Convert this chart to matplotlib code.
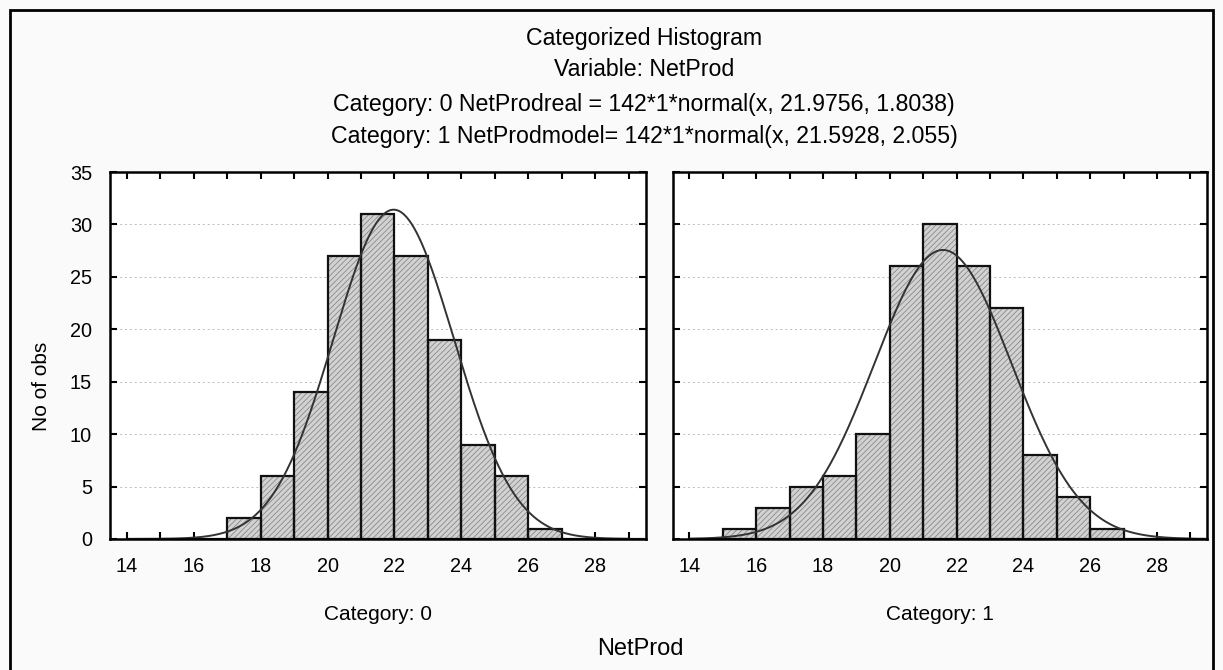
import numpy as np
import matplotlib
matplotlib.use("Agg")
import matplotlib.pyplot as plt
from matplotlib.patches import Rectangle
from matplotlib.ticker import MultipleLocator

plt.rcParams['font.family'] = ['Liberation Sans', 'DejaVu Sans']
plt.rcParams['hatch.linewidth'] = 0.6
plt.rcParams['hatch.color'] = '#8a8a8a'

# data
bin_left = list(range(14, 29))
counts_cat0 = [0, 0, 0, 2, 6, 14, 27, 31, 27, 19, 9, 6, 1, 0, 0]
counts_cat1 = [0, 1, 3, 5, 6, 10, 26, 30, 26, 22, 8, 4, 1, 0, 0]
fit_n = 142
fit_mean = [21.9756, 21.5928]
fit_sd = [1.8038, 2.055]
categories = ["Category: 0", "Category: 1"]
title_lines = ["Categorized Histogram",
               "Variable: NetProd",
               "Category: 0 NetProdreal = 142*1*normal(x, 21.9756, 1.8038)",
               "Category: 1 NetProdmodel= 142*1*normal(x, 21.5928, 2.055)"]

W, H = 1223, 670
fig = plt.figure(figsize=(W / 100, H / 100), dpi=100, facecolor='#fafafa')

def box(x0, y0, x1, y1):
    return [x0 / W, 1 - y1 / H, (x1 - x0) / W, (y1 - y0) / H]

axes = [fig.add_axes(box(110, 172, 645.5, 539)),
        fig.add_axes(box(672.7, 172, 1207, 539))]

xs = np.linspace(14, 29.5, 400)
for i, (ax, counts) in enumerate(zip(axes, [counts_cat0, counts_cat1])):
    ax.set_facecolor('white')
    ax.bar(bin_left, counts, width=1, align='edge', color='#d2d2d2',
           hatch='//////', linewidth=0, zorder=2)
    ax.bar(bin_left, counts, width=1, align='edge', fill=False,
           edgecolor='#111111', linewidth=1.6, zorder=3)
    y = fit_n * 1 * np.exp(-0.5 * ((xs - fit_mean[i]) / fit_sd[i]) ** 2) / (fit_sd[i] * np.sqrt(2 * np.pi))
    ax.plot(xs, y, color='#333333', lw=1.4, zorder=4)
    ax.set_xlim(13.5, 29.5)
    ax.set_ylim(0, 35)
    ax.xaxis.set_major_locator(MultipleLocator(2))
    ax.xaxis.set_minor_locator(MultipleLocator(1))
    ax.yaxis.set_major_locator(MultipleLocator(5))
    ax.tick_params(which='both', direction='in', top=True, right=True,
                   length=5, width=1.5, labelsize=14.3)
    ax.tick_params(axis='x', pad=13)
    ax.tick_params(axis='y', pad=13)
    ax.grid(axis='y', linestyle=(0, (2, 3)), color='#bbbbbb', lw=0.7, zorder=1)
    for s in ax.spines.values():
        s.set_linewidth(1.8)
        s.set_zorder(5)
    ax.text(0.5, -0.205, categories[i], transform=ax.transAxes,
            ha='center', va='center', fontsize=15)
axes[1].tick_params(labelleft=False)

for txt, yp in zip(title_lines, [39, 70, 104, 136]):
    fig.text(644 / W, 1 - yp / H, txt, ha='center', va='center', fontsize=16.7)
fig.text(640 / W, 1 - 649 / H, "NetProd", ha='center', va='center', fontsize=17)
fig.text(42 / W, 1 - 386 / H, "No of obs", ha='center', va='center',
         rotation=90, fontsize=15)

fig.add_artist(Rectangle((10 / W, -0.05), (1213 - 10) / W, 1 - 10 / H + 0.05,
                         transform=fig.transFigure, fill=False,
                         edgecolor='black', lw=2))

fig.savefig('out.png', dpi=100, facecolor=fig.get_facecolor())
